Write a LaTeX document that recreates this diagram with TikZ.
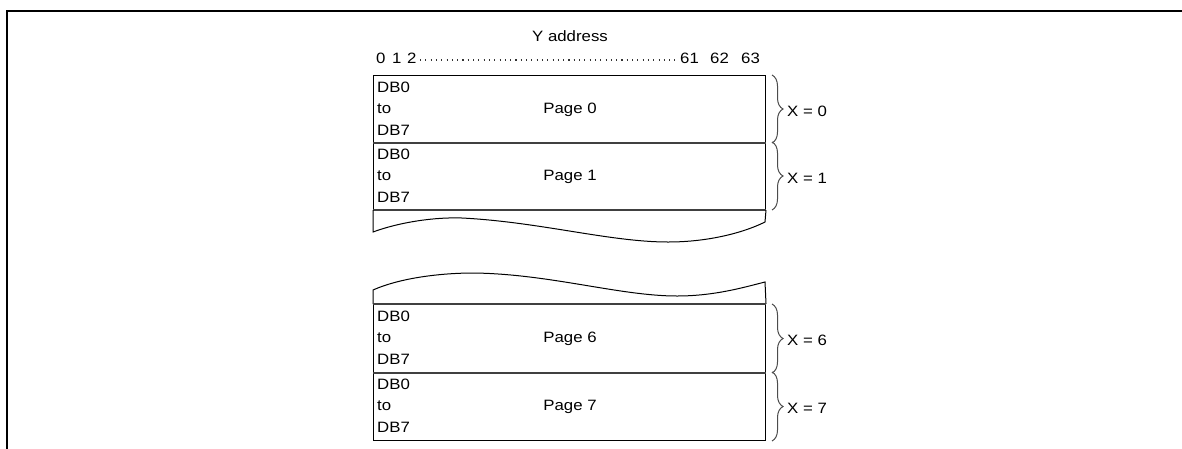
\documentclass[tikz,border=0pt]{standalone}
\usepackage{fontspec}
\setmainfont{Liberation Sans}[FakeStretch=1.12]
\usetikzlibrary{decorations.pathreplacing}
\tikzset{
  txt/.style={inner sep=0pt, anchor=base west, font=\fontsize{15}{17}\selectfont},
  ctxt/.style={inner sep=0pt, anchor=base, font=\fontsize{15}{17}\selectfont},
  pagebox/.style={draw=black, line width=1pt, inner sep=0pt, minimum width=392pt, anchor=north west},
  divider/.style={draw=black!75, line width=1.2pt},
  wave/.style={draw=black, line width=1pt},
  xbrace/.style={draw=black!70, line width=1pt, decorate, decoration={brace, amplitude=11pt}},
  frame/.style={draw=black, line width=2.2pt},
  dots/.style={draw=black!80, line width=1.1pt, dash pattern=on 1.1pt off 4.2pt}
}
\begin{document}
\begin{tikzpicture}[x=1pt,y=-1pt]
\useasboundingbox (0,0) rectangle (1182,448);
% outer frame (clipped at right and bottom)
\coordinate (fa) at (7,450);
\coordinate (fb) at (7,11);
\coordinate (fc) at (1184,11);
\draw[frame] (fa) -- (fb) -- (fc);

% header
\node[ctxt] (yaddr) at (570,41) {Y address};
\node[txt] (n0) at (376,63) {0};
\node[txt] (n1) at (392,63) {1};
\node[txt] (n2) at (407,63) {2};
\node[txt] (n61) at (680,63) {61};
\node[txt] (n62) at (710,63) {62};
\node[txt] (n63) at (741,63) {63};
\coordinate (d1) at (420,60);
\coordinate (d2) at (675,60);
\draw[dots] (d1) -- (d2);

% upper pages
\node[pagebox, minimum height=67pt] (p0) at (373,75) {};
\node[pagebox, minimum height=67pt] (p1) at (373,142) {};
\draw[divider] (p0.south west) -- (p0.south east);
\draw[divider] (p1.south west) -- (p1.south east);

% upper torn part
\coordinate (ul) at (373,232);
\coordinate (ur) at (765,222);
\draw[wave] (p1.south west) -- (ul)
  .. controls (400,222) and (435,217) .. (462,218)
  .. controls (540,222) and (610,242) .. (668,242)
  .. controls (710,242) and (745,232) .. (ur) -- (p1.south east);

% lower torn part
\node[pagebox, minimum height=68pt] (p6) at (373,304) {};
\node[pagebox, minimum height=68pt] (p7) at (373,372) {};
\coordinate (ll) at (373,290);
\coordinate (lr) at (765,282);
\draw[wave] (p6.north west) -- (ll)
  .. controls (400,278) and (440,273) .. (474,273)
  .. controls (550,274) and (620,296) .. (677,296)
  .. controls (715,296) and (745,287) .. (lr) -- (p6.north east);
\draw[divider] (p6.north west) -- (p6.north east);
\draw[divider] (p6.south west) -- (p6.south east);

% page texts
\foreach \p/\t/\lab in {p0/75/0, p1/142/1, p6/304/6, p7/372/7}{
  \node[txt] (db0\p) at (377,\t+17) {DB0};
  \node[txt] (to\p) at (377,\t+38) {to};
  \node[txt] (db7\p) at (377,\t+60) {DB7};
  \node[ctxt] (lab\p) at (570,\t+38) {Page \lab};
}

% braces
\foreach \p/\lab in {p0/0, p1/1, p6/6, p7/7}{
  \draw[xbrace] ([xshift=6pt]\p.north east) -- ([xshift=6pt]\p.south east);
  \node[txt, anchor=west] (x\p) at ([xshift=21pt,yshift=-2pt]\p.east) {X = \lab};
}
\end{tikzpicture}
\end{document}
